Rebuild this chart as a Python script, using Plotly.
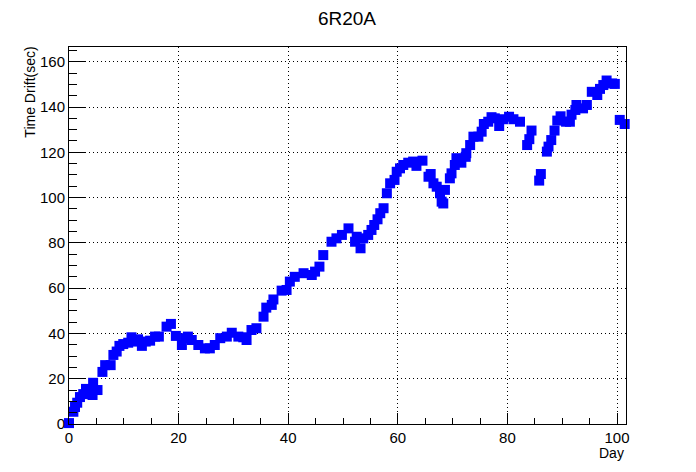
import plotly.graph_objects as go

days = [0.0, 0.8, 1.1, 1.5, 2.0, 2.6, 3.1, 3.8, 4.3, 4.4, 5.2, 6.1, 6.6, 7.6, 8.1, 8.7, 9.2, 9.9,
        10.8, 11.4, 12.0, 12.6, 13.3, 14.0, 14.8, 15.7, 16.4, 17.8, 18.6, 19.5, 20.6, 21.2, 21.7,
        22.4, 23.6, 24.8, 25.7, 26.6, 27.6, 28.8, 29.7, 30.9, 31.8, 32.4, 33.3, 34.2, 35.5, 36.0,
        37.0, 37.3, 38.8, 39.7, 40.3, 41.2, 42.8, 44.3, 44.9, 45.7, 46.4, 47.9, 48.8, 49.8, 51.0,
        52.2, 52.5, 53.2, 53.7, 54.6, 55.2, 55.7, 56.3, 56.8, 57.4, 58.0, 58.6, 59.4, 59.8, 60.4,
        61.0, 61.9, 62.8, 63.4, 64.5, 65.6, 66.0, 66.5, 67.1, 67.7, 68.0, 68.3, 68.6, 69.5, 69.8,
        70.4, 70.7, 71.6, 72.4, 72.5, 73.2, 73.8, 74.7, 75.3, 75.7, 76.5, 77.1, 77.7, 78.5, 79.2,
        80.3, 81.1, 82.3, 83.6, 84.0, 84.4, 85.8, 86.1, 87.2, 87.5, 88.0, 88.6, 89.1, 89.7, 90.7,
        91.4, 91.7, 92.4, 92.6, 93.8, 94.5, 95.4, 96.4, 96.9, 97.5, 98.1, 99.1, 99.6, 100.5, 101.4]

drift = [0.4, 5.4, 7.5, 9.4, 11.9, 13.2, 15.5, 15.0, 12.8, 18.2, 15.0, 23.0, 26.0, 26.0, 30.5, 32.0, 34.5, 35.3,
         35.9, 38.3, 36.4, 37.4, 34.5, 36.4, 36.8, 38.6, 38.6, 43.0, 44.2, 38.9, 34.9, 37.9, 38.6,
         37.1, 34.9, 33.4, 33.4, 34.9, 37.9, 38.6, 40.3, 38.6, 38.3, 37.1, 41.5, 42.3, 47.4, 51.4,
         52.6, 55.0, 58.9, 59.2, 62.9, 65.0, 66.6, 65.8, 67.3, 69.5, 74.6, 80.5, 82.0, 83.5, 86.4,
         80.5, 82.7, 77.6, 82.0, 83.5, 85.7, 87.9, 90.4, 93.1, 95.3, 101.9, 106.3, 107.8, 111.4, 112.9,
         114.4, 115.4, 115.9, 114.0, 116.3, 109.2, 110.4, 106.3, 104.8, 101.9, 98.2, 97.4, 103.4, 108.5, 110.7,
         114.4, 117.4, 115.4, 118.0, 119.6, 123.2, 126.9, 126.9, 129.1, 132.5, 133.5, 135.5, 135.0, 131.6, 134.6,
         135.7, 134.6, 133.5, 123.2, 125.8, 129.6, 107.5, 110.4, 120.3, 122.5, 125.4, 129.6, 134.0, 135.9, 133.5,
         133.5, 136.6, 138.7, 140.9, 139.4, 140.9, 146.7, 145.3, 148.0, 149.7, 151.7, 150.4, 150.2, 134.3, 132.5]

title_text = "6R20A"
x_title = "Day"
y_title = "Time Drift(sec)"

FONT = "Liberation Sans, Arial, Helvetica, sans-serif"

fig = go.Figure()
fig.add_trace(go.Scatter(
    x=days, y=drift, mode="markers",
    marker=dict(symbol="square", size=10, color="#0000ff", line=dict(width=0)),
    cliponaxis=False, showlegend=False,
))

axis_common = dict(
    showline=True, linecolor="black", linewidth=1, mirror=True,
    ticks="inside", tickcolor="black", tickwidth=1,
    showgrid=True, gridcolor="black", griddash="1px,3px", gridwidth=1,
    zeroline=False,
    tickfont=dict(family=FONT, size=15, color="black"),
)

fig.update_xaxes(
    range=[0, 101.64], tick0=0, dtick=20, ticklen=11,
    minor=dict(dtick=5, ticks="inside", ticklen=6, tickcolor="black", showgrid=False),
    **axis_common,
)
fig.update_yaxes(
    range=[0, 166.5], tick0=0, dtick=20, ticklen=16,
    minor=dict(dtick=5, ticks="inside", ticklen=8, tickcolor="black", showgrid=False),
    **axis_common,
)

fig.update_layout(
    width=696, height=472,
    margin=dict(l=61, r=78, t=39, b=56),
    paper_bgcolor="white", plot_bgcolor="white",
    title=dict(text=title_text, x=0.487, xanchor="center", y=0.979, yanchor="middle",
               font=dict(family=FONT, size=19, color="black")),
    annotations=[
        dict(text=x_title, xref="paper", yref="paper", x=1.0, y=-0.078,
             xanchor="right", yanchor="middle", showarrow=False,
             font=dict(family=FONT, size=14, color="black")),
        dict(text=y_title, xref="paper", yref="paper", x=-0.07, y=1.005,
             xanchor="center", yanchor="top", textangle=-90, showarrow=False,
             font=dict(family=FONT, size=14, color="black")),
    ],
)

fig.write_html("out.html")
